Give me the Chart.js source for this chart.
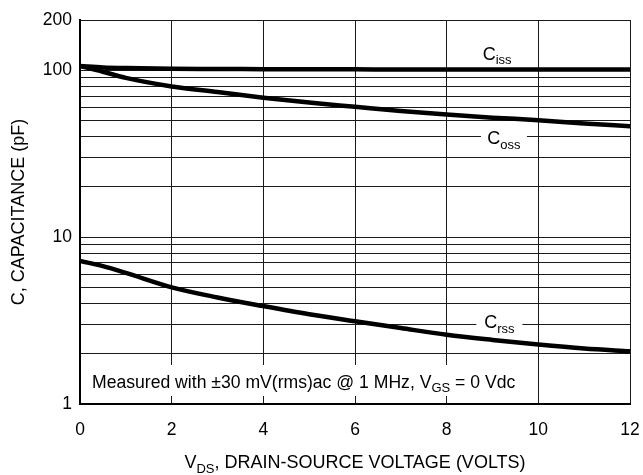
<!DOCTYPE html>
<html>
<head>
<meta charset="utf-8">
<script src="https://cdn.jsdelivr.net/npm/chart.js@4"></script>
<style>
  html, body { margin: 0; padding: 0; background: #fff; }
  #wrap { width: 643px; height: 475px; }
</style>
</head>
<body>
<div id="wrap"><canvas id="chartCap" width="643" height="475"></canvas></div>
<script>
// V_DS, volts
var vds = [0, 0.5, 1, 2, 3, 4, 5, 6, 7, 8, 9, 10, 11, 12];
// capacitances, pF
var ciss = [106, 104, 103, 102, 101.8, 101.5, 101.3, 101.2, 101, 101, 101, 101, 101, 101];
var coss = [106, 98, 90, 80, 74, 68.5, 64, 60.4, 57, 54.3, 52, 50.2, 48, 46.2];
var crss = [7.2, 6.7, 6.1, 5.0, 4.35, 3.86, 3.45, 3.13, 2.85, 2.6, 2.42, 2.27, 2.15, 2.07];

var yGrid = [1, 2, 3, 4, 5, 6, 7, 8, 9, 10, 20, 30, 40, 50, 60, 70, 80, 90, 100, 200];
var yLabels = [1, 10, 100, 200];

var FONT = '"Liberation Sans", Arial, sans-serif';

function pts(ys) {
    return vds.map(function (v, i) { return { x: v, y: ys[i] }; });
}

// curve labels: [main, subscript, x (V), y (pF), white background]
var curveLabels = [
    ['C', 'iss', 9.1, 124, false],
    ['C', 'oss', 9.25, 38.5, true],
    ['C', 'rss', 9.15, 3.05, true]
];

function drawSub(ctx, x, y, main, sub, size, align) {
    ctx.font = size + 'px ' + FONT;
    var w1 = ctx.measureText(main).width;
    ctx.font = Math.round(size * 0.72) + 'px ' + FONT;
    var w2 = ctx.measureText(sub).width;
    var x0 = align === 'center' ? x - (w1 + w2) / 2 : x;
    ctx.textAlign = 'left';
    ctx.textBaseline = 'alphabetic';
    ctx.font = size + 'px ' + FONT;
    ctx.fillText(main, x0, y);
    ctx.font = Math.round(size * 0.72) + 'px ' + FONT;
    ctx.fillText(sub, x0 + w1, y + size * 0.25);
    return w1 + w2;
}

var extras = {
    id: 'extras',
    beforeDatasetsDraw: function (chart) {
        var ctx = chart.ctx, a = chart.chartArea;
        var xs = chart.scales.x, ys = chart.scales.y;
        ctx.save();
        ctx.fillStyle = '#fff';
        // note box
        ctx.fillRect(a.left + 4, a.bottom - 39, xs.getPixelForValue(9.75) - a.left - 4, 31);
        // label backgrounds
        curveLabels.forEach(function (l) {
            if (!l[4]) return;
            var cx = xs.getPixelForValue(l[2]), cy = ys.getPixelForValue(l[3]);
            ctx.fillRect(cx - 23, cy - 12, 46, 24);
        });
        ctx.restore();
    },
    afterDraw: function (chart) {
        var ctx = chart.ctx, a = chart.chartArea;
        var xs = chart.scales.x, ys = chart.scales.y;
        ctx.save();
        ctx.fillStyle = '#000';
        curveLabels.forEach(function (l) {
            var cx = xs.getPixelForValue(l[2]), cy = ys.getPixelForValue(l[3]);
            drawSub(ctx, cx, cy + 5, l[0], l[1], 18, 'center');
        });
        // note
        var ns = 17.6;
        var nx = a.left + 12, ny = a.bottom - 16;
        ctx.font = ns + 'px ' + FONT;
        ctx.textAlign = 'left';
        ctx.textBaseline = 'alphabetic';
        var t1 = 'Measured with \u00b130 mV(rms)ac @ 1 MHz, ';
        ctx.fillText(t1, nx, ny);
        nx += ctx.measureText(t1).width;
        nx += drawSub(ctx, nx, ny, 'V', 'GS', ns, 'left');
        ctx.font = ns + 'px ' + FONT;
        ctx.fillText(' = 0 Vdc', nx, ny);
        // x title
        ctx.font = '18px ' + FONT;
        var rest = ', DRAIN-SOURCE VOLTAGE (VOLTS)';
        var wr = ctx.measureText(rest).width;
        var wv = ctx.measureText('V').width;
        ctx.font = '13px ' + FONT;
        var wd = ctx.measureText('DS').width;
        var tx = (a.left + a.right) / 2 - (wv + wd + wr) / 2, ty = 468;
        drawSub(ctx, tx, ty, 'V', 'DS', 18, 'left');
        ctx.font = '18px ' + FONT;
        ctx.fillText(rest, tx + wv + wd, ty);
        // y title
        ctx.translate(24, (a.top + a.bottom) / 2);
        ctx.rotate(-Math.PI / 2);
        ctx.textAlign = 'center';
        ctx.fillText('C, CAPACITANCE (pF)', 0, 0);
        ctx.restore();
    }
};

function curve(label, ys) {
    return {
        label: label,
        data: pts(ys),
        borderColor: '#000',
        borderWidth: 4.5,
        borderCapStyle: 'round',
        pointRadius: 0,
        fill: false,
        cubicInterpolationMode: 'monotone'
    };
}

new Chart(document.getElementById('chartCap'), {
    type: 'line',
    data: {
        datasets: [curve('Ciss', ciss), curve('Coss', coss), curve('Crss', crss)]
    },
    options: {
        responsive: false,
        animation: false,
        layout: { padding: { top: 20, right: 13, left: 0, bottom: 0 } },
        plugins: { legend: { display: false }, tooltip: { enabled: false } },
        scales: {
            x: {
                type: 'linear',
                min: 0,
                max: 12,
                afterFit: function (s) { s.height = 71; s.paddingLeft = 0; s.paddingRight = 0; },
                ticks: { stepSize: 2, padding: 16, color: '#000', font: { family: FONT, size: 17.5 } },
                grid: { color: '#1a1a1a', lineWidth: 1, drawTicks: false },
                border: { color: '#000', width: 2 }
            },
            y: {
                type: 'logarithmic',
                min: 1,
                max: 200,
                afterFit: function (s) { s.width = 80; s.paddingTop = 0; s.paddingBottom = 0; },
                afterBuildTicks: function (s) {
                    s.ticks = yGrid.map(function (v) { return { value: v }; });
                },
                ticks: {
                    autoSkip: false,
                    padding: 8,
                    color: '#000',
                    font: { family: FONT, size: 17.5 },
                    callback: function (v) { return yLabels.indexOf(v) >= 0 ? String(v) : ''; }
                },
                grid: { color: '#1a1a1a', lineWidth: 1, drawTicks: false },
                border: { color: '#000', width: 2 }
            }
        }
    },
    plugins: [extras]
});
</script>
</body>
</html>
